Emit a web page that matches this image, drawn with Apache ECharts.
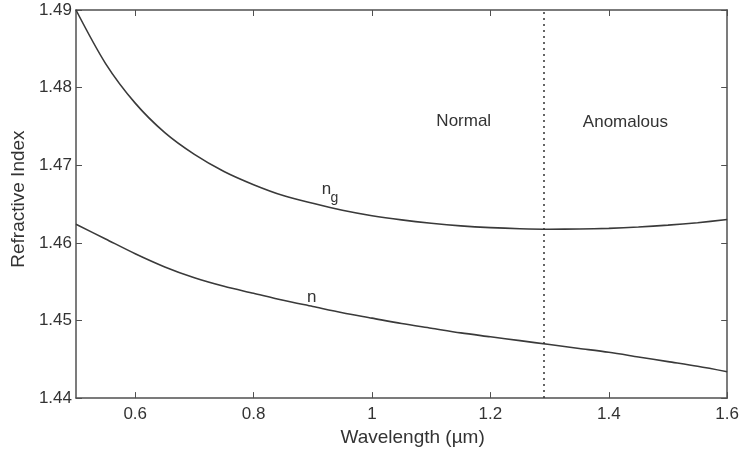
<!DOCTYPE html>
<html>
<head>
<meta charset="utf-8">
<script src="https://cdn.jsdelivr.net/npm/echarts@6/dist/echarts.min.js"></script>
<style>
html,body{margin:0;padding:0;background:#fff;}
#chart{width:742px;height:452px;}
</style>
</head>
<body>
<div id="chart"></div>
<script>
// Wavelength samples (µm)
const wavelength = [0.5, 0.55, 0.6, 0.65, 0.7, 0.75, 0.8, 0.85, 0.9, 0.95, 1.0, 1.05, 1.1, 1.15, 1.2, 1.25, 1.3, 1.35, 1.4, 1.45, 1.5, 1.55, 1.6];
// Group index n_g
const groupIndex = [1.49000, 1.48310, 1.47800, 1.47420, 1.47140, 1.46920, 1.46750, 1.46610, 1.46510, 1.46420, 1.46350, 1.46296, 1.46253, 1.46219, 1.46196, 1.46182, 1.46176, 1.46178, 1.46187, 1.46204, 1.46228, 1.46260, 1.46300];
// Refractive index n
const refIndex = [1.4624, 1.4605, 1.4586, 1.4569, 1.4555, 1.4544, 1.4535, 1.4526, 1.4518, 1.4510, 1.4503, 1.4496, 1.4490, 1.4484, 1.4479, 1.4474, 1.4469, 1.4464, 1.4459, 1.4453, 1.4447, 1.4441, 1.4434];
// Zero-dispersion wavelength (dotted divider)
const zeroDispersion = 1.293;
// Axis ticks
const xTicks = [0.6, 0.8, 1.0, 1.2, 1.4, 1.6];
const yTicks = [1.44, 1.45, 1.46, 1.47, 1.48, 1.49];
// Region and curve labels: [wavelength, index, text, subscript]
const regionLabels = [[1.155, 1.4757, 'Normal'], [1.428, 1.4755, 'Anomalous']];
const curveLabels = [[0.923, 1.4669, 'n', 'g'], [0.898, 1.4530, 'n', '']];

const FONT = '"Liberation Sans", Arial, sans-serif';
const TXT = '#333333';
const AX = '#505050';
const LINE = '#3a3a3a';

const chart = echarts.init(document.getElementById('chart'));

const toPairs = (xs, ys) => xs.map((x, i) => [x, ys[i]]);

const fmtX = v => {
  const r = Math.round(v * 10) / 10;
  return r === 1 ? '1' : String(r);
};

const baseX = {
  type: 'value', min: 0.5, max: 1.6,
  splitLine: {show: false},
  axisLine: {show: true, onZero: false, lineStyle: {color: AX, width: 1.5}},
  axisTick: {show: true, inside: true, length: 6, lineStyle: {color: AX, width: 1},
             customValues: xTicks},
};
const baseY = {
  type: 'value', min: 1.44, max: 1.49,
  splitLine: {show: false},
  axisLine: {show: true, onZero: false, lineStyle: {color: AX, width: 1.5}},
  axisTick: {show: true, inside: true, length: 6, lineStyle: {color: AX, width: 1},
             customValues: yTicks},
};

chart.setOption({
  animation: false,
  backgroundColor: '#fff',
  grid: {left: 76, right: 13, top: 10, bottom: 50, containLabel: false},
  xAxis: [
    Object.assign({}, baseX, {
      position: 'bottom',
      name: 'Wavelength (\u00b5m)', nameLocation: 'middle', nameGap: 22,
      nameTextStyle: {fontFamily: FONT, fontSize: 19, color: TXT, padding: [0, 0, 0, 22]},
      axisLabel: {show: true, fontFamily: FONT, fontSize: 17, color: TXT, margin: 8,
                  customValues: xTicks, formatter: fmtX},
    }),
    Object.assign({}, baseX, {
      position: 'top',
      axisLabel: {show: false},
    }),
  ],
  yAxis: [
    Object.assign({}, baseY, {
      position: 'left',
      name: 'Refractive Index', nameLocation: 'middle', nameGap: 44,
      nameTextStyle: {fontFamily: FONT, fontSize: 19, color: TXT, padding: [0, 0, 0, 10]},
      axisLabel: {show: true, fontFamily: FONT, fontSize: 17, color: TXT, margin: 4,
                  customValues: yTicks, formatter: v => v.toFixed(2)},
    }),
    Object.assign({}, baseY, {
      position: 'right',
      axisLabel: {show: false},
    }),
  ],
  series: [
    {
      name: 'n_g', type: 'line', xAxisIndex: 0, yAxisIndex: 0,
      data: toPairs(wavelength, groupIndex),
      smooth: 0.3, showSymbol: false, symbol: 'none',
      lineStyle: {color: LINE, width: 1.6},
    },
    {
      name: 'n', type: 'line', xAxisIndex: 0, yAxisIndex: 0,
      data: toPairs(wavelength, refIndex),
      smooth: 0.3, showSymbol: false, symbol: 'none',
      lineStyle: {color: LINE, width: 1.6},
      markLine: {
        silent: true, symbol: ['none', 'none'],
        label: {show: false},
        lineStyle: {color: '#333', type: [2, 4], width: 1.5},
        data: [{xAxis: zeroDispersion}],
      },
    },
  ],
});

// Place text annotations at data coordinates
const gfx = [];
regionLabels.forEach(([x, y, t]) => {
  const p = chart.convertToPixel({xAxisIndex: 0, yAxisIndex: 0}, [x, y]);
  gfx.push({type: 'text', x: p[0], y: p[1], z: 100,
    style: {text: t, fontFamily: FONT, fontSize: 17, fill: TXT, align: 'center', verticalAlign: 'middle'}});
});
curveLabels.forEach(([x, y, t, sub]) => {
  const p = chart.convertToPixel({xAxisIndex: 0, yAxisIndex: 0}, [x, y]);
  gfx.push({type: 'text', x: p[0], y: p[1], z: 100,
    style: {text: t, fontFamily: FONT, fontSize: 17, fill: TXT, align: 'center', verticalAlign: 'middle'}});
  if (sub) {
    gfx.push({type: 'text', x: p[0] + 4, y: p[1] + 9, z: 100,
      style: {text: sub, fontFamily: FONT, fontSize: 14, fill: TXT, align: 'left', verticalAlign: 'middle'}});
  }
});
chart.setOption({graphic: gfx});
</script>
</body>
</html>
